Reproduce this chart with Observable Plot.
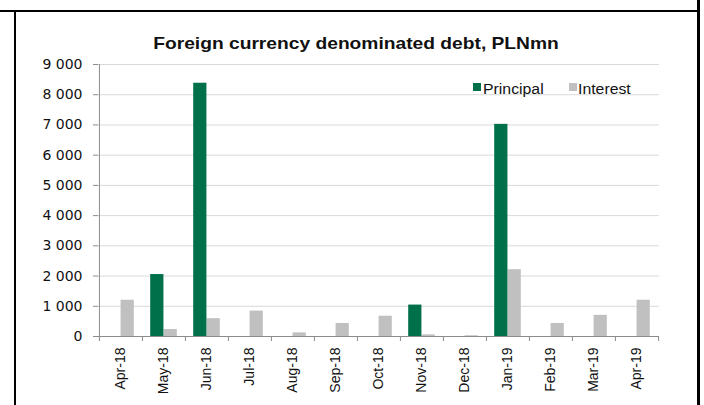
<!DOCTYPE html>
<html>
<head>
<meta charset="utf-8">
<script src="https://cdn.jsdelivr.net/npm/d3@7"></script>
<script src="https://cdn.jsdelivr.net/npm/@observablehq/plot@0.6"></script>
<style>
  html, body { margin: 0; padding: 0; background: #fff; }
  #wrap { position: relative; width: 704px; height: 405px; overflow: hidden; font-family: "Liberation Sans", Arial, sans-serif; }
  #chart { position: absolute; left: 0; top: 0; }
  .line { position: absolute; background: #000; }
  #title { position: absolute; left: 355.8px; top: 35px; transform: translateX(-50%) scaleX(1.13); font-weight: bold; font-size: 17px; line-height: 17px; white-space: nowrap; color: #111; }
  .sw { position: absolute; width: 8px; height: 8px; top: 83px; }
  .lt { position: absolute; top: 82px; font-size: 14px; line-height: 14px; color: #111; white-space: nowrap; transform: scaleX(1.13); transform-origin: 0 0; }
  #chart svg g[aria-label="y-axis tick label"] { font-size: 14px; font-family: "DejaVu Sans", sans-serif; }
  #chart svg g[aria-label="x-axis tick label"] { font-size: 14px; font-family: "Liberation Sans", Arial, sans-serif; }
</style>
</head>
<body>
<div id="wrap">
  <div id="chart"></div>
  <div class="line" style="left:0; top:10px; width:698px; height:2px;"></div>
  <div class="line" style="left:14px; top:10px; width:2px; height:395px;"></div>
  <div class="line" style="left:697px; top:0; width:3px; height:405px;"></div>
  <div id="title"></div>
  <div id="legend"></div>
</div>
<script>
const titleText = "Foreign currency denominated debt, PLNmn";
const seriesNames = ["Principal", "Interest"];
const seriesColors = ["#00704a", "#c0c0c0"];
const months = ["Apr-18","May-18","Jun-18","Jul-18","Aug-18","Sep-18","Oct-18","Nov-18","Dec-18","Jan-19","Feb-19","Mar-19","Apr-19"];
const principal = [null, 2050, 8380, null, null, null, null, 1040, null, 7020, null, null, null];
const interest = [1200, 230, 590, 840, 120, 430, 670, 55, 25, 2210, 430, 700, 1200];
const yTicks = [0, 1000, 2000, 3000, 4000, 5000, 6000, 7000, 8000, 9000];

document.getElementById("title").textContent = titleText;
const legend = document.getElementById("legend");
const swatchLeft = [472.5, 568.5];
const textLeft = [483, 578];
seriesNames.forEach((n, i) => {
  const sw = document.createElement("div");
  sw.className = "sw";
  sw.style.left = swatchLeft[i] + "px";
  sw.style.background = seriesColors[i];
  legend.appendChild(sw);
  const t = document.createElement("div");
  t.className = "lt";
  t.style.left = textLeft[i] + "px";
  t.textContent = n;
  legend.appendChild(t);
});

const W = 704, H = 405, ml = 98, mr = 45, mt = 64, mb = 69;
const bw = (W - ml - mr) / months.length;
const barW = bw * 0.31;
const outer = (bw - 2 * barW) / 2;
const fmt = d3.formatLocale({thousands: " ", grouping: [3], decimal: "."}).format(",d");
const axisColor = "#8c8c8c";

const chart = Plot.plot({
  width: W, height: H,
  marginLeft: ml, marginRight: mr, marginTop: mt, marginBottom: mb,
  style: {background: "transparent", overflow: "visible"},
  x: {domain: months, padding: 0, label: null},
  y: {domain: [0, 9000], label: null},
  marks: [
    Plot.gridY(yTicks, {stroke: "#d9d9d9", strokeOpacity: 1}),
    Plot.barY(interest, {x: (d, i) => months[i], y: d => d, fill: seriesColors[1], insetLeft: bw / 2, insetRight: outer}),
    Plot.barY(principal, {x: (d, i) => months[i], y: d => d, fill: seriesColors[0], insetLeft: outer, insetRight: bw / 2}),
    Plot.ruleY([0], {stroke: axisColor}),
    Plot.ruleX([months[0]], {dx: -bw / 2, y1: 0, y2: 9000, stroke: axisColor}),
    Plot.axisY({ticks: yTicks, tickSize: 5, tickPadding: 11, tickFormat: fmt, stroke: axisColor, fill: "#111", label: null}),
    Plot.axisX({tickSize: 0, tickRotate: -90, tickPadding: 11, label: null, fill: "#111"}),
    Plot.axisX({tickSize: 5, tickFormat: () => "", dx: -bw / 2, stroke: axisColor, label: null}),
    Plot.axisX({ticks: [months[months.length - 1]], tickSize: 5, tickFormat: () => "", dx: bw / 2, stroke: axisColor, label: null})
  ]
});
document.getElementById("chart").appendChild(chart);
</script>
</body>
</html>
